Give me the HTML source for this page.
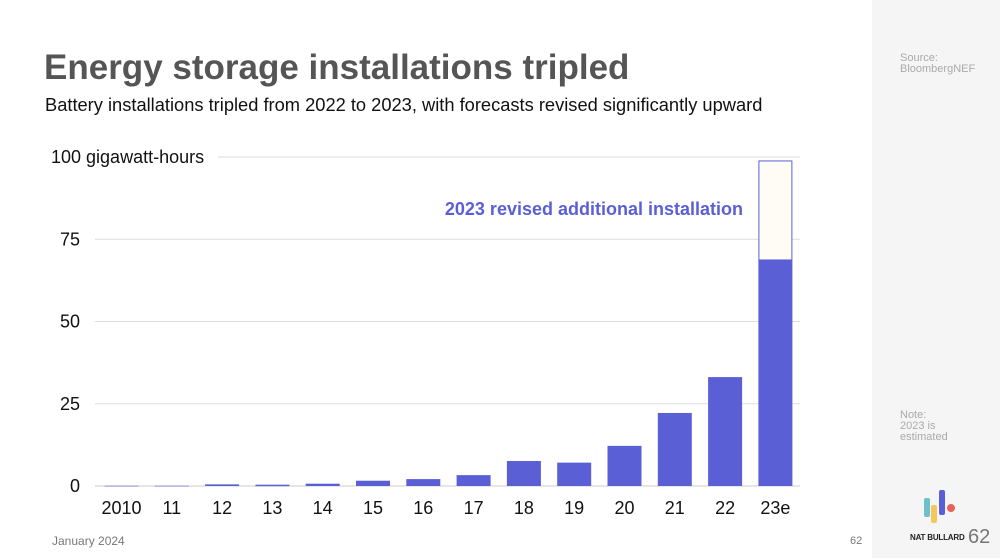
<!DOCTYPE html>
<html><head><meta charset="utf-8"><style>
body{margin:0;width:1000px;height:558px;overflow:hidden;background:#fff;font-family:"Liberation Sans",sans-serif;position:relative}
.side{position:absolute;left:872px;top:0;width:128px;height:558px;background:#f5f5f5}
.t{position:absolute;white-space:nowrap}
</style></head><body>
<div class="side"></div>
<div class="t" style="left:44px;top:48px;font-size:35px;font-weight:bold;color:#555">Energy storage installations tripled</div>
<div class="t" style="left:45px;top:94px;font-size:18.3px;color:#111">Battery installations tripled from 2022 to 2023, with forecasts revised significantly upward</div>
<div class="t" style="left:900px;top:53px;font-size:11px;color:#aaa;line-height:11px">Source:<br>BloombergNEF</div>
<div class="t" style="left:900px;top:410px;font-size:11px;color:#aaa;line-height:11px">Note:<br>2023 is<br>estimated</div>
<div class="t" style="left:52px;top:534px;font-size:12px;color:#777">January 2024</div>
<div class="t" style="left:850px;top:535px;font-size:11px;color:#777">62</div>
<div class="t" style="left:910px;top:533px;font-size:8px;font-weight:bold;color:#222;letter-spacing:-0.2px">NAT BULLARD</div>
<div class="t" style="left:968px;top:526px;font-size:20px;color:#777">62</div>
<svg style="position:absolute;left:920px;top:488px" width="40" height="36">
<rect x="4" y="10" width="6" height="19" rx="2" fill="#6fc1c9"/><rect x="11" y="17" width="6" height="18" rx="2" fill="#f2c75c"/><rect x="19" y="2" width="6" height="25" rx="2" fill="#5a5fd6"/><circle cx="31" cy="20" r="4" fill="#e8615c"/>
</svg>
<svg id="chart" style="position:absolute;left:0;top:0" width="870" height="558"></svg>
<script>
const categories=["2010","11","12","13","14","15","16","17","18","19","20","21","22","23e"];
const installed=[0.2,0.2,0.5,0.4,0.7,1.6,2.1,3.3,7.6,7.1,12.2,22.2,33.1,68.7];
const revisedTotal=[null,null,null,null,null,null,null,null,null,null,null,null,null,98.8];
const yTicks=[0,25,50,75,100];
const yTickLabels=["0","25","50","75","100 gigawatt-hours"];
const NS="http://www.w3.org/2000/svg";
const svg=document.getElementById('chart');
const y=v=>486-v*3.29;
const x=i=>121.5+i*50.3;
function mk(t,a,txt){const e=document.createElementNS(NS,t);for(const k in a)e.setAttribute(k,a[k]);if(txt!=null)e.textContent=txt;svg.appendChild(e);return e;}
yTicks.forEach((v,i)=>{
 const lbl=yTickLabels[i];
 const g=mk('line',{x1:lbl.length>3?218:95,x2:800,y1:y(v),y2:y(v),stroke:v===0?'#ccc':'#ddd','stroke-width':1});
 
 
 const t=mk('text',{x:lbl.length>3?51:80,y:y(v)+6,'font-size':18,fill:'#111','text-anchor':lbl.length>3?'start':'end'},lbl);
 
 
});
categories.forEach((c,i)=>{
 const small=installed[i]<0.3;
 const b=mk('rect',{x:x(i)-17,y:y(installed[i]),width:34,height:Math.max(1.5,installed[i]*3.29),fill:small?'#aeb0e0':'#5a5fd6'});
 
 
 if(revisedTotal[i]!=null){
  const r=mk('rect',{x:x(i)-17+0.5,y:y(revisedTotal[i]),width:33,height:(revisedTotal[i]-installed[i])*3.29,fill:'#fffcf5',stroke:'#5a5fd6','stroke-width':1});
  
  
 }
 const t=mk('text',{x:x(i),y:514,'font-size':18,fill:'#111','text-anchor':'middle'},c);
 
 
});
const ann=mk('text',{x:743,y:215,'font-size':18,'font-weight':'bold',fill:'#5a5fd6','text-anchor':'end'},'2023 revised additional installation');


</script>
</body></html>
